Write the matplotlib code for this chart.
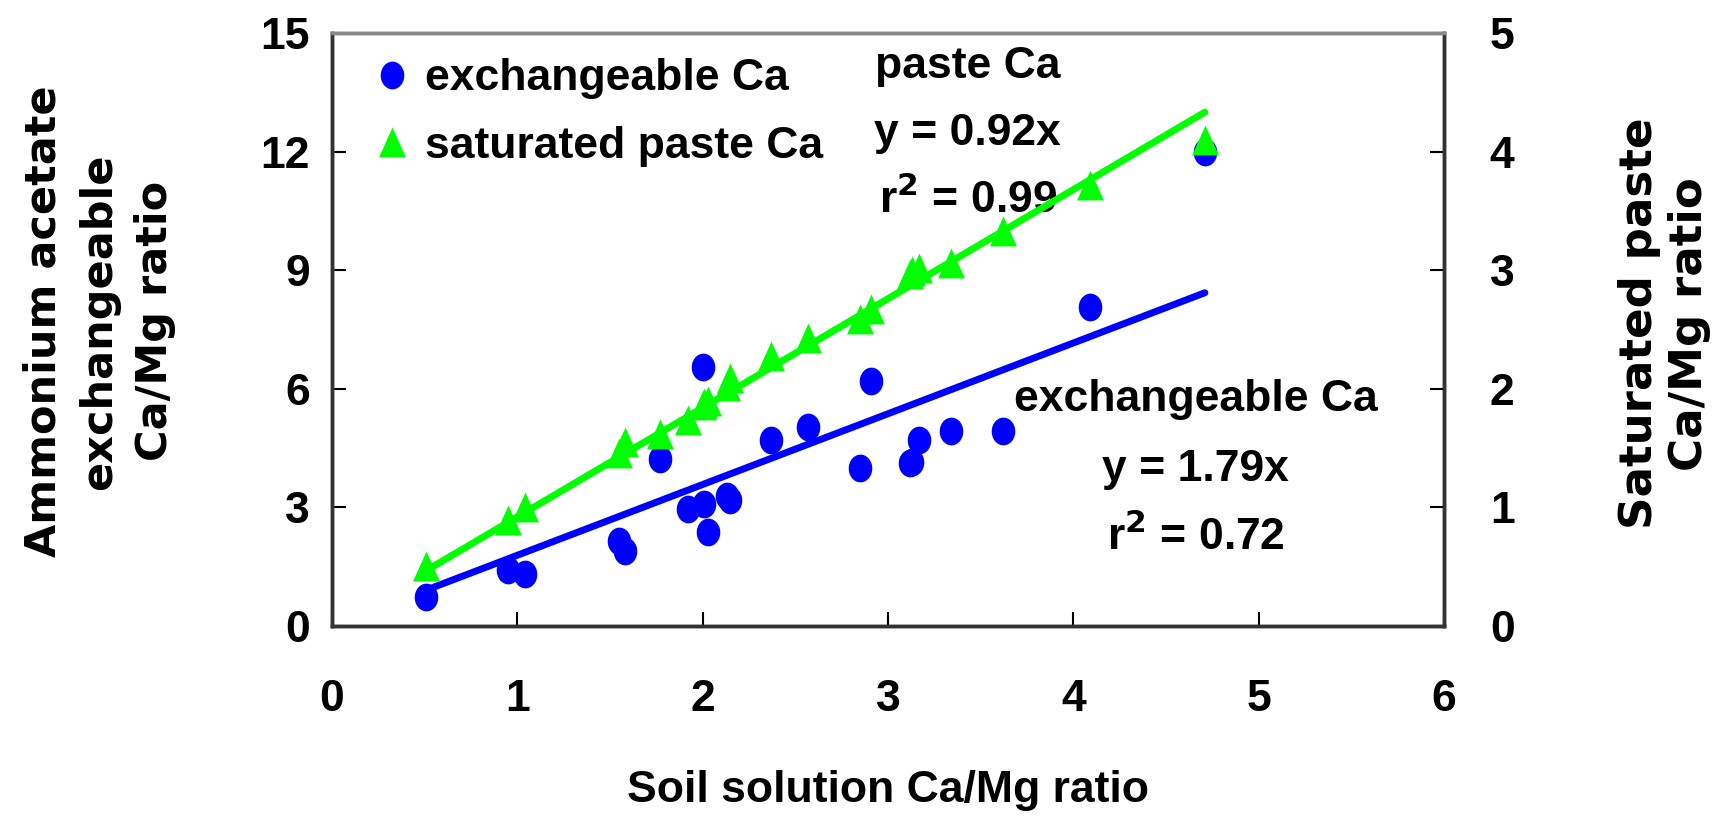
import numpy as np
import matplotlib.pyplot as plt
from matplotlib import font_manager
from matplotlib.lines import Line2D

# the original looks like Arial Bold stretched vertically:
# a narrow face for horizontal text if there is one, a wide one for the rotated labels
try:
    font_manager.findfont(font_manager.FontProperties(family='Liberation Sans Narrow', weight='bold'),
                          fallback_to_default=False)
    hfont, hsize = 'Liberation Sans Narrow', 36
except Exception:
    hfont, hsize = 'Liberation Sans', 31

plt.rcParams['font.family'] = [hfont, 'DejaVu Sans']
plt.rcParams['font.weight'] = 'bold'
plt.rcParams['mathtext.default'] = 'bf'

# soil solution Ca/Mg ratio (x) for each sample
soil_ratio = [0.51, 0.95, 1.04, 1.55, 1.58, 1.77, 1.92, 2.00, 2.01, 2.03, 2.13, 2.15,
              2.37, 2.57, 2.85, 2.91, 3.12, 3.13, 3.17, 3.34, 3.62, 4.09, 4.71]
# ammonium acetate exchangeable Ca/Mg (left axis)
exch_ratio = [0.74, 1.43, 1.32, 2.16, 1.90, 4.22, 2.95, 6.56, 3.08, 2.37, 3.30, 3.20,
              4.71, 5.04, 4.00, 6.20, 4.12, 4.15, 4.71, 4.93, 4.93, 8.08, 12.0]
# saturated paste Ca/Mg (right axis)
paste_ratio = [0.51, 0.89, 1.00, 1.46, 1.55, 1.62, 1.74, 1.86, 1.88, 1.90, 2.02, 2.09,
               2.28, 2.43, 2.59, 2.67, 2.97, 2.99, 3.02, 3.06, 3.33, 3.72, 4.10]

exch_slope = 1.79
paste_slope = 0.92

xticks = [0, 1, 2, 3, 4, 5, 6]
yticks_left = [0, 3, 6, 9, 12, 15]
yticks_right = [0, 1, 2, 3, 4, 5]

blue = '#0000FF'
green = '#00FF00'

# slightly tall markers, like the stretched original
t = np.linspace(0, 2 * np.pi, 41)
ellipse = list(zip(0.85 * np.cos(t), np.sin(t)))
triangle = [(0, 1), (-0.9, -1), (0.9, -1), (0, 1)]

fig = plt.figure(figsize=(17.2, 8.27), dpi=100)
ax = fig.add_axes([0.193, 0.243, 0.6465, 0.717])
ax2 = ax.twinx()

xs = sorted(soil_ratio)
ax.plot(xs, [exch_slope * v for v in xs], color=blue, lw=5, solid_capstyle='round', zorder=2)
ax.plot(soil_ratio, exch_ratio, ls='', marker=ellipse, color=blue, ms=20, mew=0, zorder=3)

ax2.plot(xs, [paste_slope * v for v in xs], color=green, lw=5, solid_capstyle='round', zorder=2)
ax2.plot(soil_ratio, paste_ratio, ls='', marker=triangle, color=green, ms=21.5, mew=0, zorder=3)

ax.set_xlim(0, 6)
ax.set_ylim(0, 15)
ax2.set_ylim(0, 5)
ax.set_xticks(xticks)
ax.set_yticks(yticks_left)
ax2.set_yticks(yticks_right)

ax.tick_params(axis='x', direction='in', length=10, width=1.5, labelsize=hsize + 1, pad=38)
ax.tick_params(axis='y', direction='in', length=10, width=1.5, labelsize=hsize + 1, pad=16)
ax2.tick_params(axis='y', direction='in', length=10, width=1.5, labelsize=hsize + 1, pad=33)

for a in (ax, ax2):
    for side in ('left', 'right', 'bottom'):
        a.spines[side].set_color('#333333')
        a.spines[side].set_linewidth(2.5)
    a.spines['top'].set_color('#888888')
    a.spines['top'].set_linewidth(2.5)

ax.set_xlabel('Soil solution Ca/Mg ratio', fontsize=hsize + 1, fontweight='bold', va='center')
ax.xaxis.set_label_coords(0.5, -0.278)

ax.set_ylabel('Ammonium acetate\nexchangeable\nCa/Mg ratio', family='DejaVu Sans',
              fontsize=31, fontweight='bold', va='center', linespacing=1.42)
ax.yaxis.set_label_coords(-0.2095, 0.514)
ax2.set_ylabel('Saturated paste\nCa/Mg ratio', family='DejaVu Sans',
               fontsize=32.5, fontweight='bold', va='center', rotation=90, linespacing=1.2)
ax2.yaxis.set_label_coords(1.198, 0.51)

ax.text(3.43, 13.86, 'paste Ca', fontsize=hsize + 1, ha='center', va='baseline')
ax.text(3.43, 12.17, 'y = 0.92x', fontsize=hsize + 1, ha='center', va='baseline')
ax.text(3.43, 10.46, 'r$^2$ = 0.99', fontsize=hsize + 1, ha='center', va='baseline')
ax.text(4.66, 5.45, 'exchangeable Ca', fontsize=hsize + 1, ha='center', va='baseline')
ax.text(4.66, 3.68, 'y = 1.79x', fontsize=hsize + 1, ha='center', va='baseline')
ax.text(4.66, 1.92, 'r$^2$ = 0.72', fontsize=hsize + 1, ha='center', va='baseline')

handles = [Line2D([], [], marker=ellipse, color=blue, ls='', ms=20, mew=0),
           Line2D([], [], marker=triangle, color=green, ls='', ms=21.5, mew=0)]
ax2.legend(handles, ['exchangeable Ca', 'saturated paste Ca'], loc='upper left',
           bbox_to_anchor=(0.01, 1.01), frameon=False, fontsize=hsize + 1,
           handlelength=0.8, handletextpad=0.35, labelspacing=0.6, borderaxespad=0.3)

fig.savefig('out.png', dpi=100)
